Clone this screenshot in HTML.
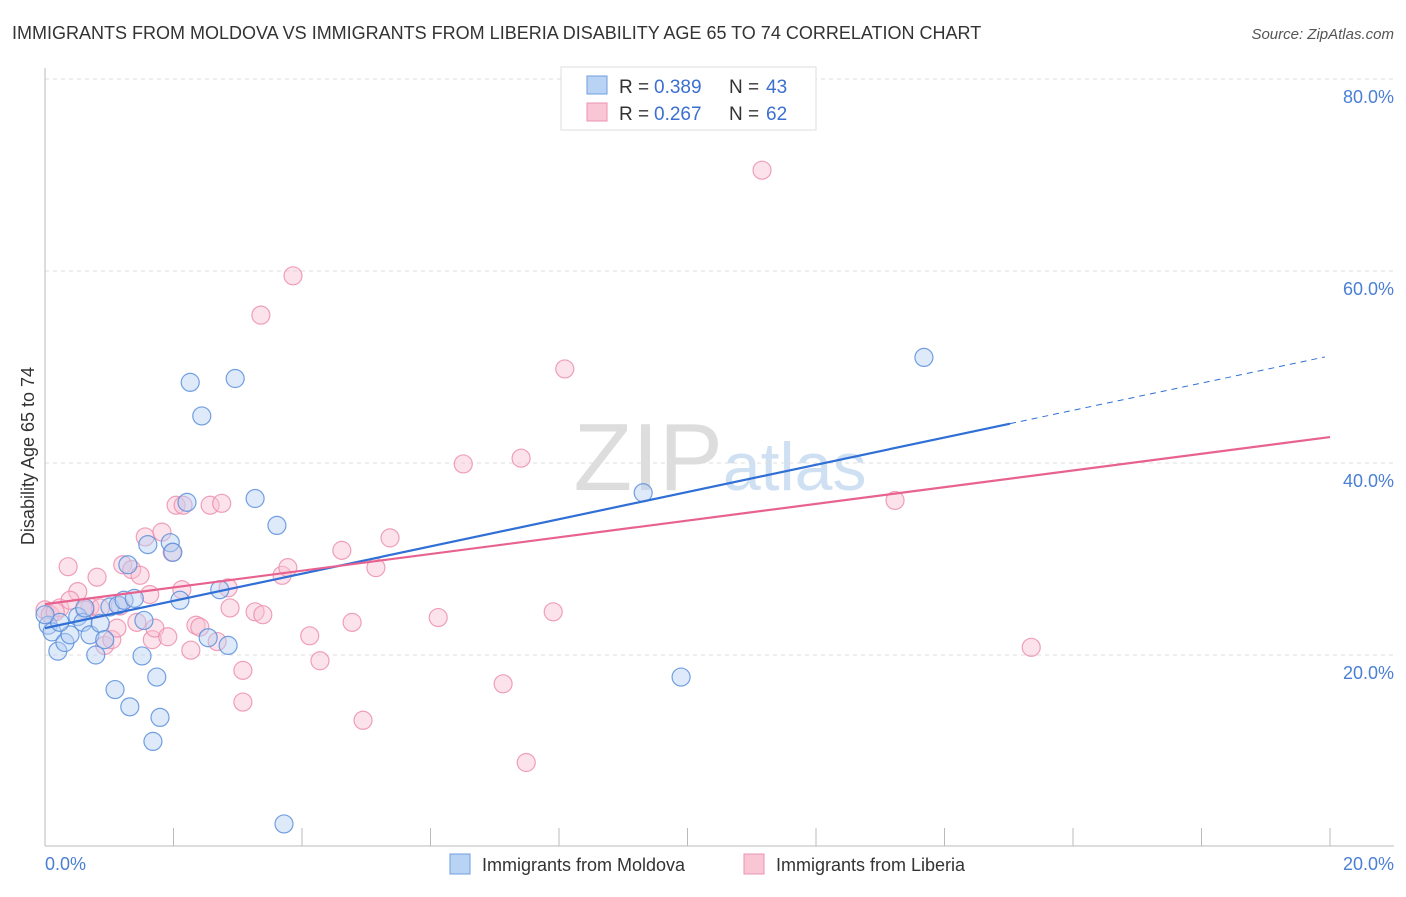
<!DOCTYPE html>
<html><head><meta charset="utf-8"><style>
body{margin:0;background:#fff;font-family:"Liberation Sans",sans-serif}
svg text{font-family:"Liberation Sans",sans-serif}
</style></head><body>
<svg width="1406" height="892">
<text x="12" y="39" font-size="18" fill="#333">IMMIGRANTS FROM MOLDOVA VS IMMIGRANTS FROM LIBERIA DISABILITY AGE 65 TO 74 CORRELATION CHART</text>
<text x="1394" y="39" font-size="15" fill="#555" text-anchor="end" font-style="italic">Source: ZipAtlas.com</text>
<text x="720" y="490" font-size="96" fill="#ddd" text-anchor="middle" font-family="Liberation Serif">ZIP<tspan fill="#cfe0f3" font-family="Liberation Sans" font-size="68">atlas</tspan></text>
<g id="grid"></g><g id="axes"></g><g id="pts"></g><g id="lines"></g>
<text transform="translate(34,456) rotate(-90)" font-size="18" fill="#333" text-anchor="middle">Disability Age 65 to 74</text>
<text x="45" y="870" font-size="18" fill="#4a7fd4">0.0%</text>
<text x="1394" y="870" font-size="18" fill="#4a7fd4" text-anchor="end">20.0%</text>
<g>
<rect x="561" y="67" width="255" height="63" fill="#fff" stroke="#ddd"/>
<rect x="587" y="76" width="20" height="18" fill="#b9d3f5" stroke="#6e9ee0"/>
<rect x="587" y="103" width="20" height="18" fill="#f9c6d6" stroke="#ec93b0"/>
<text x="619" y="93" font-size="19" fill="#333">R =</text>
<text x="654" y="93" font-size="19" fill="#3b6fd0">0.389</text>
<text x="729" y="93" font-size="19" fill="#333">N =</text>
<text x="766" y="93" font-size="19" fill="#3b6fd0">43</text>
<text x="619" y="120" font-size="19" fill="#333">R =</text>
<text x="654" y="120" font-size="19" fill="#3b6fd0">0.267</text>
<text x="729" y="120" font-size="19" fill="#333">N =</text>
<text x="766" y="120" font-size="19" fill="#3b6fd0">62</text>
</g>
<g>
<rect x="450" y="854" width="20" height="20" fill="#b9d3f5" stroke="#6e9ee0"/>
<text x="482" y="871" font-size="18" fill="#333">Immigrants from Moldova</text>
<rect x="744" y="854" width="20" height="20" fill="#f9c6d6" stroke="#ec93b0"/>
<text x="776" y="871" font-size="18" fill="#333">Immigrants from Liberia</text>
</g>
</svg>
<script>
const yTicks=[20,40,60,80];
const yTickLabels=["20.0%","40.0%","60.0%","80.0%"];
const blueX=[0.05,0.11,0.2,0.31,0.39,0.23,0.51,0.59,0.7,0.79,0.86,0.93,1.01,1.14,1.23,1.29,1.39,1.54,1.6,1.51,1.95,1.99,2.1,1.74,1.09,1.32,1.79,1.68,2.21,2.26,2.44,2.96,2.54,2.85,2.72,3.27,3.61,3.72,9.31,9.9,13.68,0.62,0.0];
const blueY=[23.1,22.4,20.4,21.3,22.1,23.4,24.0,23.4,22.1,20.0,23.3,21.6,25.0,25.2,25.7,29.4,25.9,23.6,31.5,19.9,31.7,30.7,25.7,17.7,16.4,14.6,13.5,11.0,35.9,48.4,44.9,48.8,21.8,21.0,26.8,36.3,33.5,2.4,36.9,17.7,51.0,24.9,24.2];
const pinkX=[0,0.08,0.23,0.36,0.51,0.7,0.81,0.93,1.04,1.12,1.21,1.35,1.48,1.43,1.56,1.67,1.71,1.82,1.91,1.98,2.04,2.15,2.13,2.27,2.35,2.41,2.57,2.75,2.68,2.85,2.88,3.08,3.08,3.27,3.39,3.36,3.69,3.78,3.86,4.12,4.28,4.62,4.78,4.95,5.15,5.37,6.12,6.51,7.13,7.41,7.49,7.91,8.09,11.16,13.23,15.35,0.86,0.62,1.17,0.16,0.39,1.63];
const pinkY=[24.7,24.2,24.9,29.2,26.6,25.0,28.1,21.0,21.6,22.8,29.4,28.9,28.3,23.4,32.3,21.6,22.8,32.8,21.9,30.7,35.6,35.6,26.8,20.5,23.1,22.9,35.6,35.8,21.4,27.0,24.9,18.4,15.1,24.5,24.2,55.4,28.3,29.1,59.5,22.0,19.4,30.9,23.4,13.2,29.1,32.2,23.9,39.9,17.0,40.5,8.8,24.5,49.8,70.5,36.1,20.8,24.9,24.7,25.1,24.5,25.7,26.3];
const blueTrend=[22.8,1.418];
const pinkTrend=[25.3,0.87];
const NS="http://www.w3.org/2000/svg";
const sx=v=>45+v/20*1285, sy=v=>847-v*9.6;
function mk(t,a,p){const e=document.createElementNS(NS,t);for(const k in a)e.setAttribute(k,a[k]);document.getElementById(p).appendChild(e);return e;}
yTicks.forEach((t,i)=>{
 const l=mk('line',{x1:45,x2:1394,y1:sy(t),y2:sy(t),stroke:'#ddd','stroke-dasharray':'4,4'},'grid');
 
 
 const tx=mk('text',{x:1394,y:sy(t)+24,'font-size':18,fill:'#4a7fd4','text-anchor':'end'},'grid');
 tx.textContent=yTickLabels[i];
 
 
});
const ax=mk('line',{x1:45,x2:45,y1:68,y2:846,stroke:'#bbb'},'axes');


const bx=mk('line',{x1:45,x2:1394,y1:846,y2:846,stroke:'#bbb'},'axes');


for(let i=0;i<=10;i++){const t=mk('line',{x1:sx(i*2),x2:sx(i*2),y1:828,y2:846,stroke:'#bbb'},'axes');
 
 }
function dots(X,Y,f,s,n){X.forEach((x,i)=>{const c=mk('circle',{cx:sx(x),cy:sy(Y[i]),r:9,fill:f,'fill-opacity':0.45,stroke:s,'stroke-width':1.2,'stroke-opacity':0.85},'pts');
 
 });}
dots(pinkX,pinkY,'#f9c1d2','#ec8fae','liberia-point');
dots(blueX,blueY,'#b5d0f3','#5b8fdc','moldova-point');
const b1=mk('line',{x1:sx(0),y1:sy(blueTrend[0]),x2:sx(15.02),y2:sy(blueTrend[0]+blueTrend[1]*15.02),stroke:'#2f6fd6','stroke-width':2.2},'lines');


const b2=mk('line',{x1:sx(15.02),y1:sy(blueTrend[0]+blueTrend[1]*15.02),x2:sx(19.92),y2:sy(blueTrend[0]+blueTrend[1]*19.92),stroke:'#2f6fd6','stroke-width':1,'stroke-dasharray':'6,5'},'lines');


const p1=mk('line',{x1:sx(0),y1:sy(pinkTrend[0]),x2:sx(20),y2:sy(pinkTrend[0]+pinkTrend[1]*20),stroke:'#e8628f','stroke-width':2.2},'lines');


</script>
</body></html>
